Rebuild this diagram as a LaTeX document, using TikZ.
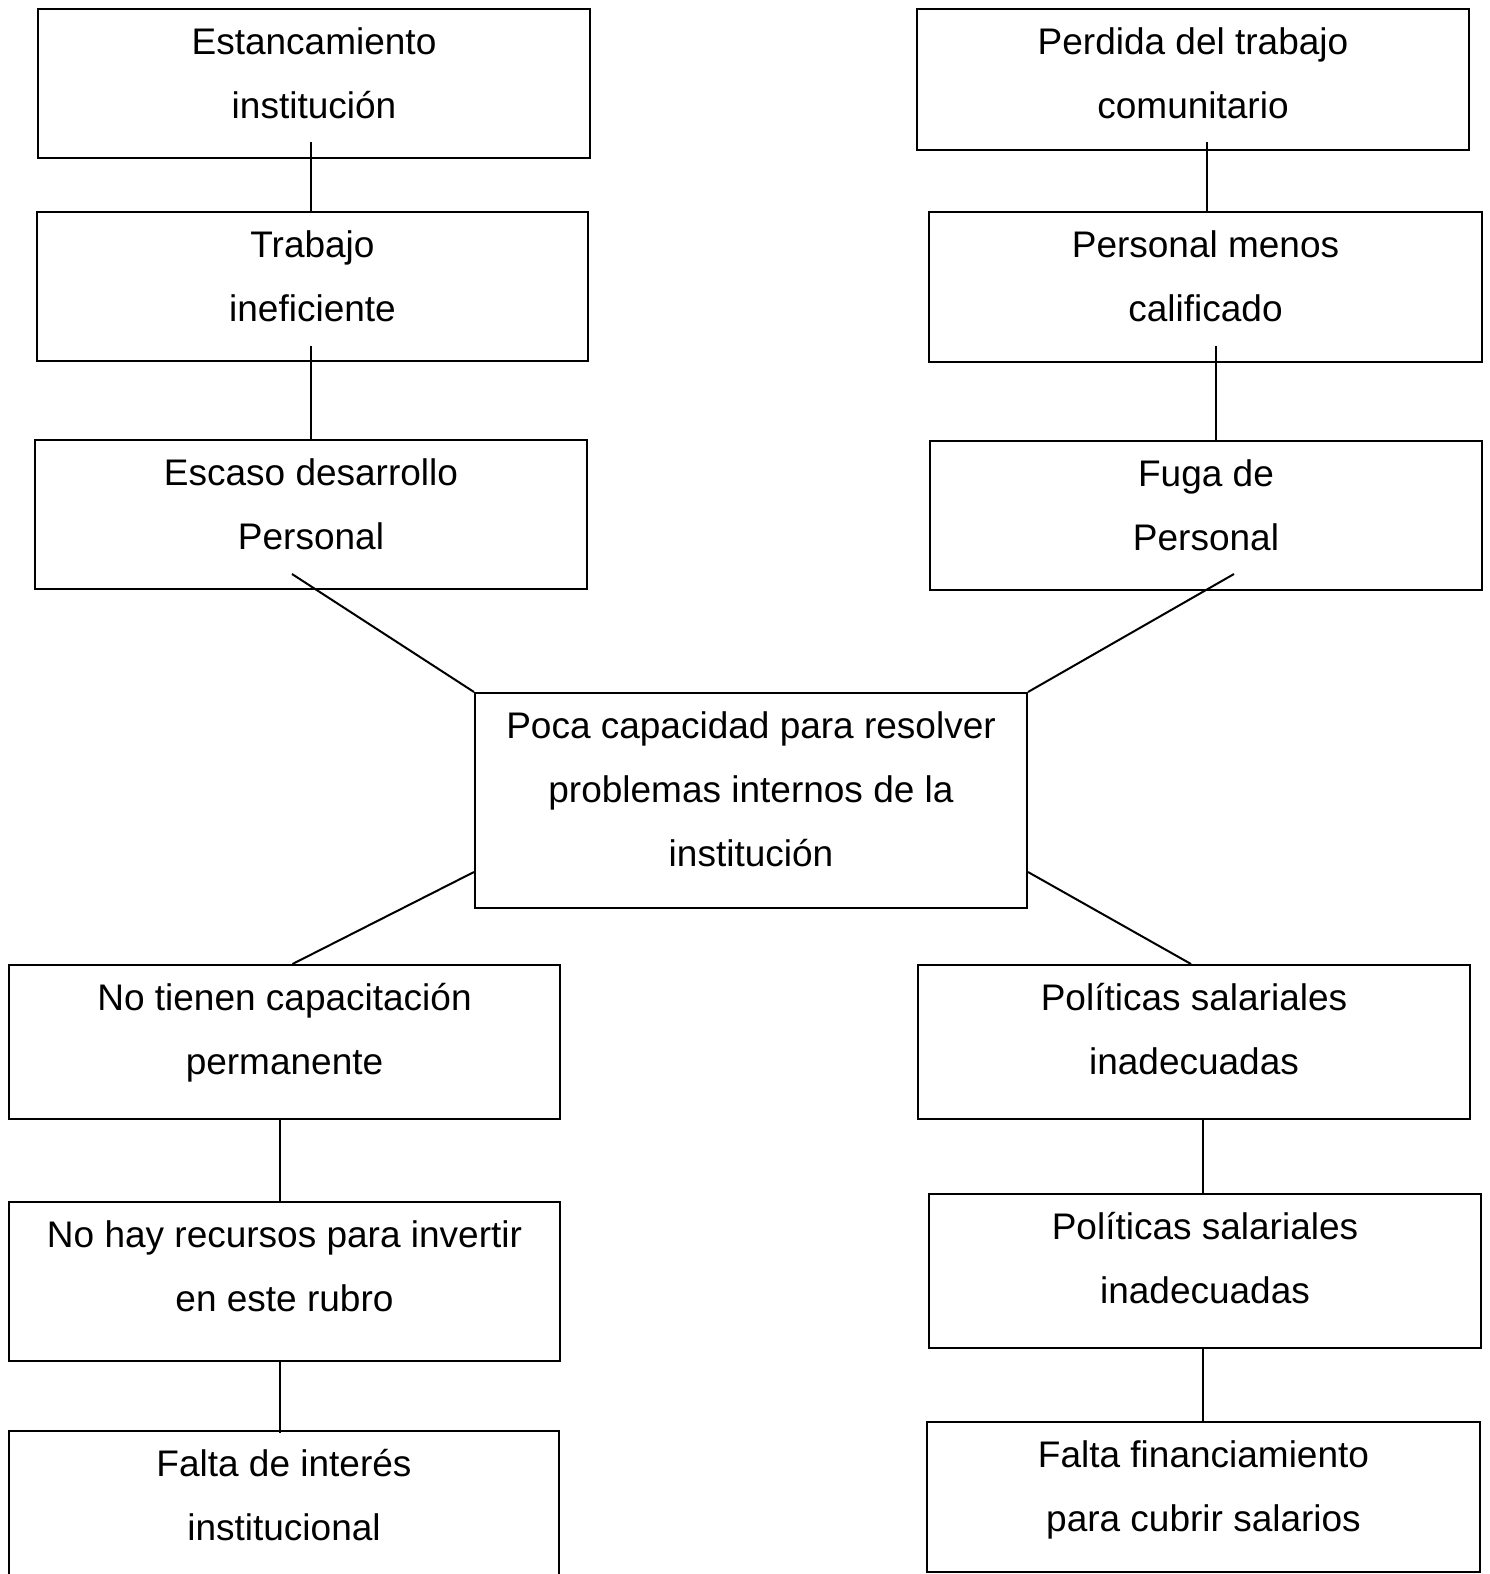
\documentclass[tikz,border=0pt]{standalone}
\usepackage{fontspec}
\setmainfont{Liberation Sans}
\usetikzlibrary{calc}
\begin{document}
\begin{tikzpicture}[x=1pt,y=-1pt,
  box/.style={draw, line width=2pt, rectangle, inner sep=0pt, anchor=north west},
  txt/.style={anchor=north, align=center, inner sep=0pt, font=\fontsize{37}{64}\selectfont},
  link/.style={line width=2pt}]
\useasboundingbox (0,0) rectangle (1490,1574);

% boxes: name, top-left corner, size, text
\newcommand{\mkbox}[6]{%
  \node[box, minimum width=#4pt, minimum height=#5pt] (#1) at (#2,#3) {};
  \node[txt] (#1t) at ([yshift=-19pt]#1.north) {#6};}

\mkbox{b1}{37}{8}{552}{149}{Estancamiento\\institución}
\mkbox{b2}{36}{211}{551}{149}{Trabajo\\ineficiente}
\mkbox{b3}{34}{439}{552}{149}{Escaso desarrollo\\Personal}
\mkbox{b4}{916}{8}{552}{141}{Perdida del trabajo\\comunitario}
\mkbox{b5}{928}{211}{553}{150}{Personal menos\\calificado}
\mkbox{b6}{929}{440}{552}{149}{Fuga de\\Personal}
\mkbox{c}{474}{692}{552}{215}{Poca capacidad para resolver\\problemas internos de la\\institución}
\mkbox{b8}{8}{964}{551}{154}{No tienen capacitación\\permanente}
\mkbox{b9}{8}{1201}{551}{159}{No hay recursos para invertir\\en este rubro}
\mkbox{b10}{8}{1430}{550}{160}{Falta de interés\\institucional}
\mkbox{b11}{917}{964}{552}{154}{Políticas salariales\\inadecuadas}
\mkbox{b12}{928}{1193}{552}{154}{Políticas salariales\\inadecuadas}
\mkbox{b13}{926}{1421}{553}{150}{Falta financiamiento\\para cubrir salarios}

% vertical links on the left
\draw[link] ([xshift=-3pt,yshift=17pt]b1.south) -- ([xshift=-3pt]b1.south |- b2.north);
\draw[link] ([xshift=-2pt,yshift=16pt]b2.south) -- ([xshift=-2pt]b2.south |- b3.north);
% vertical links on the right
\draw[link] ([xshift=14pt,yshift=9pt]b4.south) -- ([xshift=14pt]b4.south |- b5.north);
\draw[link] ([xshift=10pt,yshift=17pt]b5.south) -- ([xshift=10pt]b5.south |- b6.north);
% diagonal links to and from the central problem
\draw[link] ([xshift=-19pt,yshift=16pt]b3.south) -- (c.north west);
\draw[link] ([xshift=28pt,yshift=17pt]b6.south) -- (c.north east);
\draw[link] ([yshift=37pt]c.south west) -- ([xshift=8pt]b8.north);
\draw[link] ([yshift=37pt]c.south east) -- ([xshift=-3pt]b11.north);
% lower vertical links
\draw[link] ([xshift=-5pt]b8.south) -- ([xshift=-5pt]b8.south |- b9.north);
\draw[link] ([xshift=-5pt]b9.south) -- ([xshift=-5pt,yshift=-3pt]b9.south |- b10.north);
\draw[link] ([xshift=9pt]b11.south) -- ([xshift=9pt]b11.south |- b12.north);
\draw[link] ([xshift=-2pt]b12.south) -- ([xshift=-2pt]b12.south |- b13.north);
\end{tikzpicture}
\end{document}
